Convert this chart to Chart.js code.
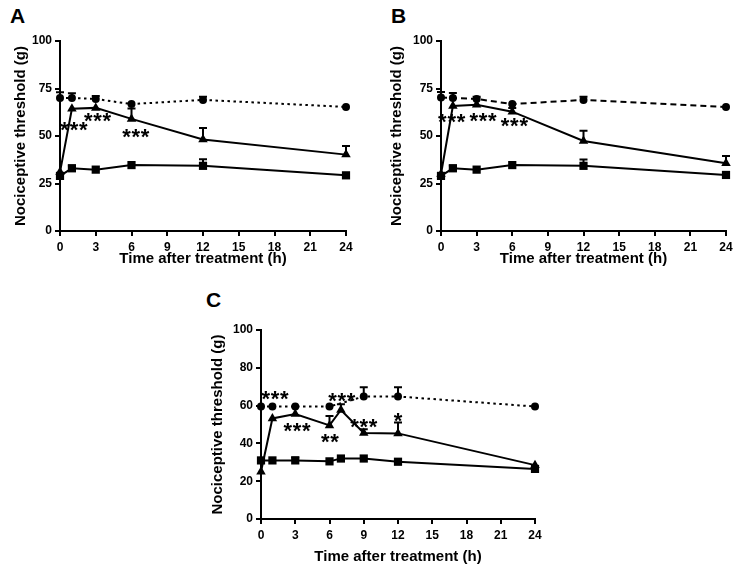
<!DOCTYPE html>
<html>
<head>
<meta charset="utf-8">
<script src="https://cdn.jsdelivr.net/npm/chart.js@4.4.1/dist/chart.umd.min.js"></script>
<style>
    html, body { margin: 0; padding: 0; background: #fff; width: 741px; height: 569px; overflow: hidden; }
    canvas { position: absolute; }
    .letter { position: absolute; font: bold 21px "Liberation Sans", Arial, sans-serif; color: #000; line-height: normal; }
</style>
</head>
<body>
<div class="letter" style="left:10px;top:4px">A</div>
<div class="letter" style="left:391px;top:4px">B</div>
<div class="letter" style="left:206px;top:288px">C</div>
<canvas id="chartA" width="370" height="290" style="left:0;top:0"></canvas>
<canvas id="chartB" width="371" height="290" style="left:370px;top:0"></canvas>
<canvas id="chartC" width="360" height="280" style="left:200px;top:289px"></canvas>
<script>
// ============ DATA ============
const timeAB = [0, 1, 3, 6, 12, 24];
const timeC = [0, 1, 3, 6, 7, 9, 12, 24];
const xTicks = [0, 3, 6, 9, 12, 15, 18, 21, 24];

// panel A
const aCircle = [70, 70, 69.5, 66.8, 69, 65.3];
const aCircleErr = [3, 2.5, 1.5, 0, 1.7, 0];
const aTriangle = [31, 64.3, 64.8, 59, 48.2, 40.2];
const aTriangleErr = [0, 0, 0, 5.5, 6, 4.5];
const aSquare = [29, 33, 32.3, 34.7, 34.3, 29.3];
const aSquareErr = [0, 1.5, 0, 0, 3.5, 1.2];
const aStarTime = [1.17, 3.15, 6.36];
const aStarValue = [56.3, 60.7, 52.6];
const aStarText = ['***', '***', '***'];

// panel B
const bCircle = [70.2, 70, 69.5, 66.8, 69, 65.3];
const bCircleErr = [3, 2.6, 1.2, 0, 1.7, 0];
const bTriangle = [30, 65.8, 66.5, 62.8, 47.4, 35.6];
const bTriangleErr = [0, 0, 0, 2, 5.4, 3.9];
const bSquare = [29, 33, 32.3, 34.7, 34.3, 29.5];
const bSquareErr = [0, 1.5, 0, 0, 3.3, 1.5];
const bStarTime = [0.9, 3.54, 6.18];
const bStarValue = [60.2, 60.7, 58];
const bStarText = ['***', '***', '***'];

// panel C
const cCircle = [59.5, 59.5, 59.5, 59.5, null, 64.8, 64.8, 59.5];
const cCircleErr = [0, 0, 0, 0, 0, 4.9, 4.9, 0];
const cTriangle = [25, 53.2, 55.5, 49.5, 57.7, 45.5, 45.3, 28.5];
const cTriangleErr = [0, 0, 0, 5, 3, 2, 5.7, 0];
const cSquare = [31, 31, 31, 30.5, 32, 32, 30.3, 26.5];
const cSquareErr = [0, 0, 1.5, 0, 0, 0, 0, 1.5];
const cStarTime = [1.23, 3.15, 6.04, 7.07, 9.0, 12.0];
const cStarValue = [66.6, 49.7, 43.5, 65.2, 51.4, 54.5];
const cStarText = ['***', '***', '**', '***', '***', '*'];

const FONT = '"Liberation Sans", Arial, sans-serif';

// ============ PLUGINS ============
// upper error bars, drawn behind the lines and markers
const errorBarPlugin = {
    id: 'errorBars',
    beforeDatasetsDraw(chart) {
        const { ctx, scales: { x, y } } = chart;
        ctx.save();
        ctx.strokeStyle = '#000';
        ctx.lineWidth = 2;
        chart.data.datasets.forEach(ds => {
            const errs = ds.errorBars || [];
            ds.data.forEach((p, i) => {
                if (p.y == null || !errs[i]) return;
                const px = x.getPixelForValue(p.x);
                const py = y.getPixelForValue(p.y);
                const pe = y.getPixelForValue(p.y + errs[i]);
                ctx.beginPath();
                ctx.moveTo(px, py);
                ctx.lineTo(px, pe);
                ctx.moveTo(px - 4, pe);
                ctx.lineTo(px + 4, pe);
                ctx.stroke();
            });
        });
        ctx.restore();
    }
};

// significance asterisks
const starPlugin = {
    id: 'stars',
    afterDatasetsDraw(chart, args, opts) {
        const { ctx, scales: { x, y } } = chart;
        const times = opts.times || [];
        ctx.save();
        ctx.fillStyle = '#000';
        ctx.font = 'bold 22px ' + FONT;
        ctx.textAlign = 'center';
        ctx.textBaseline = 'alphabetic';
        times.forEach((t, i) => {
            const cx = x.getPixelForValue(t);
            const cy = y.getPixelForValue(opts.values[i]);
            const n = opts.texts[i].length;
            for (let k = 0; k < n; k++) {
                ctx.fillText('*', cx + (k - (n - 1) / 2) * 9.3, cy + 12.5);
            }
        });
        ctx.restore();
    }
};

// ============ BUILD ONE PANEL ============
function toPoints(times, values) {
    return times.map((t, i) => ({ x: t, y: values[i] }));
}

function makePanel(id, p) {
    const ctx = document.getElementById(id).getContext('2d');
    const series = [
        { values: p.circle, errs: p.circleErr, style: 'circle', radius: 4, dash: p.circleDash },
        { values: p.triangle, errs: p.triangleErr, style: 'triangle', radius: 5.5, dash: [] },
        { values: p.square, errs: p.squareErr, style: 'rect', radius: 5.8, dash: [] }
    ];
    return new Chart(ctx, {
        type: 'line',
        data: {
            datasets: series.map(s => ({
                data: toPoints(p.times, s.values),
                errorBars: s.errs,
                borderColor: '#000',
                backgroundColor: '#000',
                borderWidth: 2,
                borderDash: s.dash,
                pointStyle: s.style,
                pointRadius: s.radius,
                pointBorderWidth: 0,
                pointBackgroundColor: '#000',
                spanGaps: true,
                tension: 0,
                clip: false
            }))
        },
        options: {
            responsive: false,
            animation: false,
            events: [],
            layout: { padding: { top: p.top, right: p.right, bottom: 0, left: 0 } },
            plugins: {
                legend: { display: false },
                tooltip: { enabled: false },
                stars: { times: p.starTime, values: p.starValue, texts: p.starText }
            },
            scales: {
                x: {
                    type: 'linear',
                    min: 0,
                    max: 24,
                    afterFit: s => { s.height = p.xHeight; },
                    afterBuildTicks: s => { s.ticks = xTicks.map(v => ({ value: v })); },
                    grid: { display: true, drawOnChartArea: false, drawTicks: true, tickLength: 5, color: '#000', lineWidth: 2 },
                    border: { display: true, color: '#000', width: 2 },
                    ticks: { color: '#000', padding: 4, maxRotation: 0, font: { family: FONT, size: 12, weight: 'bold' } },
                    title: {
                        display: true,
                        text: 'Time after treatment (h)',
                        color: '#000',
                        font: { family: FONT, size: 15, weight: 'bold' },
                        padding: { top: 0, bottom: p.xTitlePad }
                    }
                },
                y: {
                    min: 0,
                    max: 100,
                    afterFit: s => { s.width = p.yWidth; },
                    grid: { display: true, drawOnChartArea: false, drawTicks: true, tickLength: 5, color: '#000', lineWidth: 2 },
                    border: { display: true, color: '#000', width: 2 },
                    ticks: { color: '#000', padding: 3, stepSize: p.yStep, font: { family: FONT, size: 12, weight: 'bold' } },
                    title: {
                        display: true,
                        text: 'Nociceptive threshold (g)',
                        color: '#000',
                        font: { family: FONT, size: 15, weight: 'bold' },
                        padding: { top: p.yTitlePad, bottom: 0 }
                    }
                }
            }
        },
        plugins: [errorBarPlugin, starPlugin]
    });
}

// ============ INITIALIZE PAGE ============
makePanel('chartA', {
    times: timeAB, circle: aCircle, circleErr: aCircleErr, circleDash: [2.5, 3.5],
    triangle: aTriangle, triangleErr: aTriangleErr, square: aSquare, squareErr: aSquareErr,
    starTime: aStarTime, starValue: aStarValue, starText: aStarText,
    top: 41, right: 24, xHeight: 59, yWidth: 60, yStep: 25, xTitlePad: 22, yTitlePad: 12
});

makePanel('chartB', {
    times: timeAB, circle: bCircle, circleErr: bCircleErr, circleDash: [6, 4],
    triangle: bTriangle, triangleErr: bTriangleErr, square: bSquare, squareErr: bSquareErr,
    starTime: bStarTime, starValue: bStarValue, starText: bStarText,
    top: 41, right: 15, xHeight: 59, yWidth: 71, yStep: 25, xTitlePad: 22, yTitlePad: 18
});

makePanel('chartC', {
    times: timeC, circle: cCircle, circleErr: cCircleErr, circleDash: [2.5, 3.5],
    triangle: cTriangle, triangleErr: cTriangleErr, square: cSquare, squareErr: cSquareErr,
    starTime: cStarTime, starValue: cStarValue, starText: cStarText,
    top: 41, right: 25, xHeight: 50, yWidth: 61, yStep: 20, xTitlePad: 3, yTitlePad: 9
});
</script>
</body>
</html>
